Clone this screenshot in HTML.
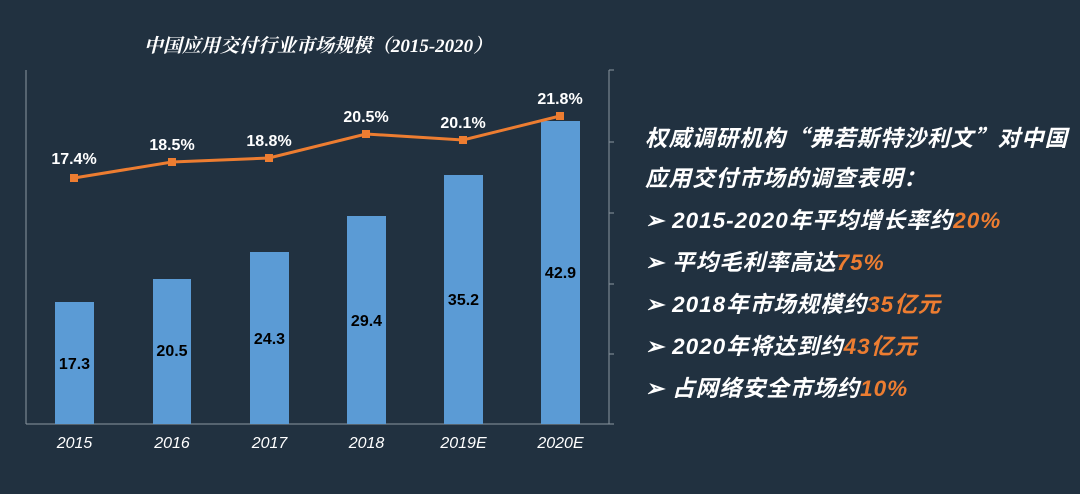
<!DOCTYPE html>
<html><head><meta charset="utf-8"><style>
body{margin:0;width:1080px;height:494px;background:#213140;overflow:hidden;font-family:"Liberation Sans","Noto Sans CJK SC",sans-serif}
.r{position:absolute;left:645px;color:#fff;font-weight:bold;font-style:italic;font-size:22.5px;line-height:24px;letter-spacing:1px;white-space:nowrap;font-family:"Liberation Sans","Noto Sans CJK SC",sans-serif}
.o{color:#ED7D31}
.q{font-family:"Noto Sans CJK SC",sans-serif}
</style></head><body>
<svg width="1080" height="494" style="position:absolute;left:0;top:0" font-family="Liberation Sans, Noto Sans CJK SC, sans-serif">
<text x="318" y="52" fill="#fff" font-size="19" font-style="italic" font-weight="bold" text-anchor="middle" font-family="Liberation Serif, Noto Serif CJK SC, serif">中国应用交付行业市场规模（2015-2020）</text>
<g stroke="#8a96a0" stroke-width="1">
<line x1="26" y1="70" x2="26" y2="424"/>
<line x1="26" y1="424" x2="609" y2="424"/>
<line x1="609" y1="70" x2="609" y2="424"/>
<line x1="609" y1="70" x2="614" y2="70"/><line x1="609" y1="142" x2="614" y2="142"/><line x1="609" y1="213" x2="614" y2="213"/><line x1="609" y1="284" x2="614" y2="284"/><line x1="609" y1="354" x2="614" y2="354"/><line x1="609" y1="424" x2="614" y2="424"/>
</g>
<g fill="#5B9BD5">
<rect x="55" y="302" width="39" height="122"/>
<rect x="153" y="279" width="38" height="145"/>
<rect x="250" y="252" width="39" height="172"/>
<rect x="347" y="216" width="39" height="208"/>
<rect x="444" y="175" width="39" height="249"/>
<rect x="541" y="121" width="39" height="303"/>
</g>
<g fill="#000" font-size="16" font-weight="bold" text-anchor="middle">
<text x="74.5" y="369">17.3</text><text x="172" y="356">20.5</text><text x="269.5" y="344">24.3</text><text x="366.5" y="326">29.4</text><text x="463.5" y="305">35.2</text><text x="560.5" y="278">42.9</text>
</g>
<g fill="#fff" font-size="16" font-style="italic" text-anchor="middle">
<text x="74.5" y="448">2015</text><text x="172" y="448">2016</text><text x="269.5" y="448">2017</text><text x="366.5" y="448">2018</text><text x="463.5" y="448">2019E</text><text x="560.5" y="448">2020E</text>
</g>
<polyline points="74,178 172,162 269,158 366,134 463,140 560,116" fill="none" stroke="#ED7D31" stroke-width="3"/>
<g fill="#ED7D31">
<rect x="70" y="174" width="8" height="8"/><rect x="168" y="158" width="8" height="8"/><rect x="265" y="154" width="8" height="8"/><rect x="362" y="130" width="8" height="8"/><rect x="459" y="136" width="8" height="8"/><rect x="556" y="112" width="8" height="8"/>
</g>
<g fill="#fff" font-size="16" font-weight="bold" text-anchor="middle">
<text x="74" y="164">17.4%</text><text x="172" y="150">18.5%</text><text x="269" y="146">18.8%</text><text x="366" y="122">20.5%</text><text x="463" y="128">20.1%</text><text x="560" y="104">21.8%</text>
</g>
</svg>
<div class="r" style="top:125px">权威调研机构<span class="q">“</span>弗若斯特沙利文<span class="q">”</span>对中国</div>
<div class="r" style="top:167px">应用交付市场的调查表明：</div>
<div class="r" style="top:209px">➢ 2015-2020年平均增长率约<span class="o">20%</span></div>
<div class="r" style="top:251px">➢ 平均毛利率高达<span class="o">75%</span></div>
<div class="r" style="top:293px">➢ 2018年市场规模约<span class="o">35亿元</span></div>
<div class="r" style="top:335px">➢ 2020年将达到约<span class="o">43亿元</span></div>
<div class="r" style="top:377px">➢ 占网络安全市场约<span class="o">10%</span></div>
</body></html>
